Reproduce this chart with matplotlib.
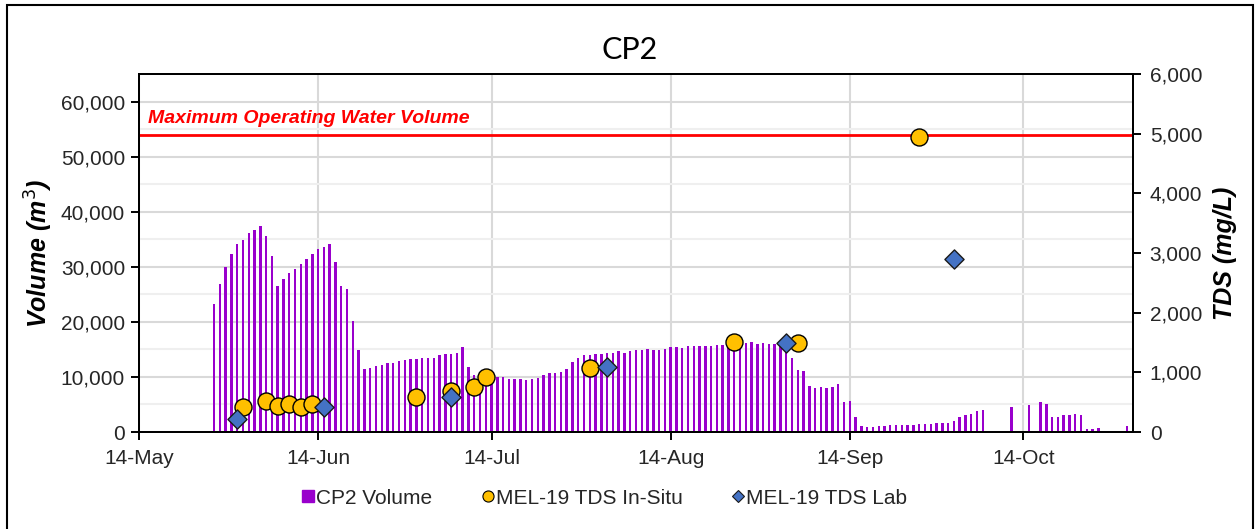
import matplotlib
matplotlib.use("Agg")
import matplotlib.pyplot as plt
import matplotlib.dates as mdates
from matplotlib.ticker import FuncFormatter, MultipleLocator, FixedLocator
from matplotlib.patches import Rectangle
from matplotlib.lines import Line2D
import pandas as pd

plt.rcParams['font.family'] = ['Liberation Sans', 'DejaVu Sans']

# ---------------- data ----------------
volume_start = "2021-05-27"   # first daily bar
volume = [
    23330, 26950, 29970, 32390, 34200, 34920, 36130, 36740, 37340, 35530,
    32030, 26590, 27730, 28880, 29540, 30450, 31360, 32390, 33230, 33590,
    34080, 30810, 26460, 26040, 20120, 14800, 11360, 11660, 11960, 12140,
    12450, 12570, 12810, 13110, 13230, 13230, 13350, 13410, 13410, 13900,
    14140, 14200, 14260, 15470, 11780, 10330, 10500, 10630, 10150, 10030,
    9910, 9610, 9610, 9610, 9430, 9550, 9730, 10390, 10630, 10750,
    10810, 11360, 12690, 13410, 13900, 13960, 14140, 14140, 14300, 14260,
    14620, 14380, 14620, 14800, 14920, 14980, 14860, 14860, 15040, 15350,
    15410, 15230, 15530, 15590, 15530, 15530, 15650, 15710, 15710, 15770,
    15890, 16070, 16250, 16310, 15950, 16250, 15890, 15890, 16070, 16070,
    13410, 11240, 11000, 8300, 8000, 8100, 7950, 8220, 8730, 5500,
    5620, 2780, 1090, 970, 970, 1090, 1090, 1210, 1210, 1270,
    1330, 1330, 1390, 1450, 1450, 1630, 1630, 1630, 1990, 2780,
    3140, 3320, 3750, 3930, 0, 0, 0, 0, 4470, 0,
    0, 4950, 0, 5440, 5010, 2780, 2720, 3140, 3140, 3200,
    3140, 490, 550, 730, 0, 0, 0, 0, 1090,
]

insitu_dates = ["2021-06-01", "2021-06-05", "2021-06-07", "2021-06-09", "2021-06-11",
                "2021-06-13", "2021-07-01", "2021-07-07", "2021-07-11", "2021-07-13",
                "2021-07-31", "2021-08-25", "2021-09-05", "2021-09-26"]
insitu_tds = [414, 525, 436, 464, 414, 469, 592, 692, 759, 916, 1067, 1503, 1497, 4950]

lab_dates = ["2021-05-31", "2021-06-15", "2021-07-07", "2021-08-03", "2021-09-03", "2021-10-02"]
lab_tds = [218, 425, 592, 1090, 1497, 2900]

max_operating_volume = 54000
tick_dates = ["2021-05-14", "2021-06-14", "2021-07-14", "2021-08-14", "2021-09-14", "2021-10-14"]
x_start, x_end = "2021-05-14", "2021-11-02"

title = "CP2"
left_label = "Volume (m$^{3}$)"
right_label = "TDS (mg/L)"
max_label = "Maximum Operating Water Volume"
series_names = ["CP2 Volume", "MEL-19 TDS In-Situ", "MEL-19 TDS Lab"]

# ---------------- figure ----------------
W, H = 1255, 529
fig = plt.figure(figsize=(W / 100, H / 100), dpi=100)
L, R, T, B = 139, 1133, 74, 432
ax = fig.add_axes([L / W, 1 - B / H, (R - L) / W, (B - T) / H])
ax2 = ax.twinx()

vol_dates = pd.date_range(volume_start, periods=len(volume), freq="D")
ax.bar(vol_dates, volume, width=0.42, color="#9900CC", zorder=2, linewidth=0)

ax.set_ylim(0, 65000)
ax.yaxis.set_major_locator(FixedLocator(range(0, 60001, 10000)))
ax.yaxis.set_minor_locator(MultipleLocator(5000))
ax.yaxis.set_major_formatter(FuncFormatter(lambda v, p: f"{int(v):,}"))
ax.set_xlim(pd.Timestamp(x_start), pd.Timestamp(x_end))
ax.set_xticks(pd.to_datetime(tick_dates))
ax.xaxis.set_major_formatter(mdates.DateFormatter("%d-%b"))

ax.grid(True, which="major", axis="y", color="#D9D9D9", lw=1.5, zorder=0)
ax.grid(True, which="minor", axis="y", color="#EFEFEF", lw=1.5, zorder=0)
ax.grid(True, which="major", axis="x", color="#D9D9D9", lw=1.5, zorder=0)
ax.set_axisbelow(True)

ax.axhline(max_operating_volume, color="#FF0000", lw=2, zorder=3)
ax.text(pd.Timestamp(x_start) + pd.Timedelta(days=1.5), max_operating_volume + 1300,
        max_label, color="#FF0000", fontsize=14, fontweight="bold", fontstyle="italic",
        ha="left", va="bottom", zorder=4)

ax2.set_ylim(0, 6000)
ax2.yaxis.set_major_locator(FixedLocator(range(0, 6001, 1000)))
ax2.yaxis.set_major_formatter(FuncFormatter(lambda v, p: f"{int(v):,}"))
ax2.scatter(pd.to_datetime(insitu_dates), insitu_tds, s=150, marker="o",
            facecolor="#FFC000", edgecolor="black", linewidth=1, zorder=5)
ax2.scatter(pd.to_datetime(lab_dates), lab_tds, s=95, marker="D",
            facecolor="#4472C4", edgecolor="#1A1A1A", linewidth=1, zorder=6)

for a in (ax, ax2):
    for sp in a.spines.values():
        sp.set_linewidth(1.4)
        sp.set_color("black")
    a.tick_params(axis="both", which="major", labelsize=15, length=6, width=1.4,
                  direction="out", colors="black", labelcolor="#262626")
    a.tick_params(axis="y", which="minor", length=0)
ax.tick_params(axis="x", pad=6)
ax.tick_params(axis="y", pad=4)
ax2.tick_params(axis="y", pad=6)

ax.set_ylabel(left_label, fontsize=18, fontweight="bold", fontstyle="italic", labelpad=4)
ax2.set_ylabel(right_label, fontsize=18, fontweight="bold", fontstyle="italic", labelpad=8)
fig.text(630 / W, 1 - 50 / H, title, fontsize=22, ha="center", va="center",
         family=["Lato", "DejaVu Sans"])

handles = [
    Line2D([], [], marker="s", linestyle="none", markersize=8, markerfacecolor="#9900CC",
           markeredgecolor="#9900CC"),
    Line2D([], [], marker="o", linestyle="none", markersize=8, markerfacecolor="#FFC000",
           markeredgecolor="black", markeredgewidth=0.8),
    Line2D([], [], marker="D", linestyle="none", markersize=6.5, markerfacecolor="#4472C4",
           markeredgecolor="#1A1A1A", markeredgewidth=0.8),
]
fig.legend(handles, series_names, loc="center", bbox_to_anchor=(605 / W, 1 - 498 / H),
           ncol=3, frameon=False, fontsize=15, handlelength=0.5, handletextpad=0.15,
           columnspacing=2.4, labelcolor="#262626")

fig.add_artist(Rectangle((7 / W, -0.02), (1253 - 7) / W, 1.02 - 5 / H,
                         transform=fig.transFigure, fill=False, edgecolor="black", lw=1.5))

fig.savefig("out.png", dpi=100)
